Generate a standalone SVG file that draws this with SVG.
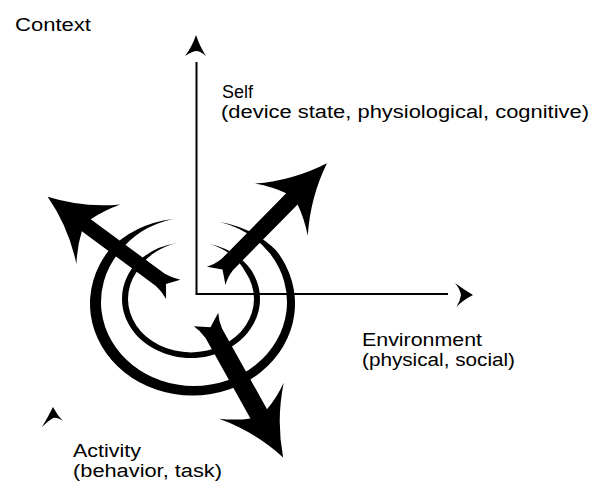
<svg xmlns="http://www.w3.org/2000/svg" width="595" height="486" viewBox="0 0 595 486">
  <style>
    .lbl { font-family: "Liberation Sans", Arial, sans-serif; font-size: 18px; fill: #000; }
    .axis { stroke: #000; stroke-width: 2; fill: none; }
    .ink { fill: #000; stroke: none; }
  </style>
  <rect width="595" height="486" fill="#fff"/>

  <!-- axes: Self (up), Environment (right), Activity (head only) -->
  <g id="connectors">
    <line class="axis" x1="196.5" y1="62" x2="196.5" y2="294"/>
    <line class="axis" x1="195.5" y1="294" x2="448" y2="294"/>
    <path class="ink" d="M196,35 Q200,47 206,56 Q200,51 196.5,51 Q193,51 185,56 Q192,47 196,35 Z"/>
    <path class="ink" d="M473,295 Q463,289 455,283 Q460,289 461,295 Q460,301 456.5,307 Q463,300 473,295 Z"/>
    <path class="ink" d="M53,407 Q57,415 63,421 Q57,417 53,418 Q48,421 42,427 Q48,417 53,407 Z"/>
  </g>

  <!-- concentric open rings with tapered ends -->
  <g id="rings">
    <path class="ink" d="M173,219 A102.5 92 0 0 0 108.6,250.7 A102.5 92 0 1 0 276.4,250.7 A102.5 92 0 0 0 220,222 A93 84 0 0 1 270.2,253.8 A93 84 0 1 1 117.8,253.8 A93 84 0 0 1 173,219 Z"/>
    <path class="ink" d="M177,243 A69 59 0 0 0 131.2,269.5 A69 59 0 1 0 250.8,269.5 A69 59 0 0 0 210,244 A63 53.5 0 0 1 245.6,272.25 A63 53.5 0 1 1 136.4,272.25 A63 53.5 0 0 1 177,243 Z"/>
  </g>

  <!-- the three bold arrows leaving the rings -->
  <g id="arrow-ne" transform="translate(219,273) rotate(-45.5)">
    <path class="ink" d="M-4,-13 Q3,-9 12,-8 L104,-8 Q99,-22 89,-37 Q118,-12 154,0 Q118,12 89,37 Q99,22 104,8 L12,8 Q3,9 -4,13 L5,0 Z"/>
  </g>
  <g id="arrow-nw" transform="translate(170,287) rotate(216.4)">
    <path class="ink" d="M-4,-12 Q3,-8.5 12,-7.5 L104,-7.5 Q99,-22 89,-37 Q117,-12 152,0 Q117,12 89,37 Q99,22 104,7.5 L12,7.5 Q3,8.5 -4,12 L5,0 Z"/>
  </g>
  <g id="arrow-se" transform="translate(208,323) rotate(60.8)">
    <path class="ink" d="M-4,-14 Q3,-10.5 12,-9.5 L104,-9.5 Q99,-23 89,-37 Q118,-12 154,0 Q118,12 89,37 Q99,23 104,9.5 L12,9.5 Q3,10.5 -4,14 L5,0 Z"/>
  </g>

  <g id="title">
    <text class="lbl" x="15" y="31" textLength="76" lengthAdjust="spacingAndGlyphs">Context</text>
  </g>
  <g id="self">
    <text class="lbl" x="222" y="98">Self</text>
    <text class="lbl" x="221" y="118" textLength="368" lengthAdjust="spacingAndGlyphs">(device state, physiological, cognitive)</text>
  </g>
  <g id="environment">
    <text class="lbl" x="362" y="346" textLength="120" lengthAdjust="spacingAndGlyphs">Environment</text>
    <text class="lbl" x="362" y="366" textLength="153" lengthAdjust="spacingAndGlyphs">(physical, social)</text>
  </g>
  <g id="activity">
    <text class="lbl" x="73" y="457" textLength="68" lengthAdjust="spacingAndGlyphs">Activity</text>
    <text class="lbl" x="73" y="477" textLength="149" lengthAdjust="spacingAndGlyphs">(behavior, task)</text>
  </g>
</svg>
